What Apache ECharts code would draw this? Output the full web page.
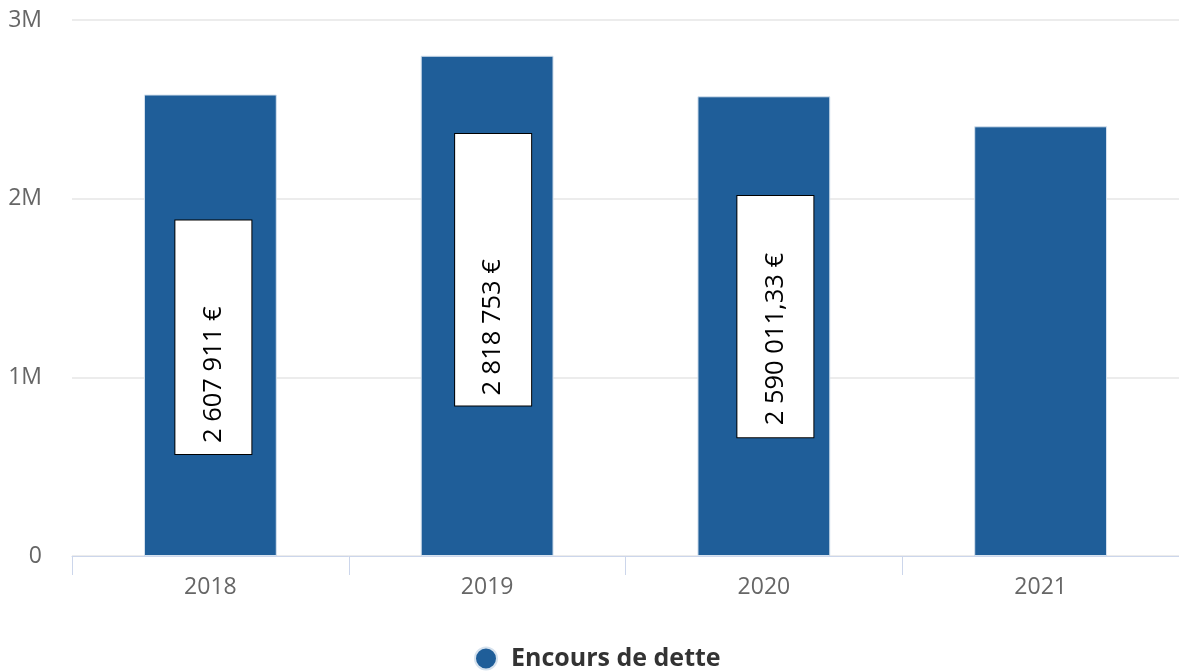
<!DOCTYPE html>
<html>
<head>
<meta charset="utf-8">
<script src="https://cdn.jsdelivr.net/npm/echarts@6/dist/echarts.min.js"></script>
<style>
html,body{margin:0;padding:0;background:#fff;}
#chart{width:1179px;height:671px;}
</style>
</head>
<body>
<div id="chart"></div>
<script>
// Data
var categories = ['2018', '2019', '2020', '2021'];
var debtValues = [2583000, 2800000, 2573000, 2405000];
var labelTexts = ['2 607 911 €', '2 818 753 €', '2 590 011,33 €', null];
var yTicks = [0, 1000000, 2000000, 3000000];
var seriesName = 'Encours de dette';

// Per-label box styling (padding in the rotated text frame, offset in rotated frame)
var labelStyles = [
  { padding: [23, 86, 23, 11], offset: [-12, 3] },
  { padding: [23, 125, 23, 10], offset: [36, 6] },
  { padding: [23, 57, 23, 12], offset: [9.5, 11.5] },
  null
];

var seriesData = debtValues.map(function (v, i) {
  var item = { value: v };
  if (labelTexts[i] && labelStyles[i]) {
    item.label = {
      show: true,
      position: 'inside',
      rotate: 90,
      formatter: labelTexts[i],
      color: '#000',
      fontFamily: 'Open Sans',
      fontSize: 25.5,
      lineHeight: 30,
      backgroundColor: '#fff',
      borderColor: '#000',
      borderWidth: 1,
      padding: labelStyles[i].padding,
      offset: labelStyles[i].offset
    };
  } else {
    item.label = { show: false };
  }
  return item;
});

var chart = echarts.init(document.getElementById('chart'), null, { renderer: 'canvas' });
chart.setOption({
  animation: false,
  backgroundColor: '#fff',
  grid: { left: 72, right: 0, top: 20, bottom: 115, containLabel: false },
  legend: {
    data: [seriesName],
    left: 469,
    top: 641,
    icon: 'circle',
    itemWidth: 22,
    itemHeight: 22,
    textStyle: {
      fontFamily: 'Open Sans',
      fontSize: 25,
      fontWeight: 'bold',
      color: '#333',
      padding: [0, 0, 0, 9]
    }
  },
  xAxis: {
    type: 'category',
    data: categories,
    axisLine: { lineStyle: { color: '#ccd6eb', width: 1 } },
    axisTick: { show: true, length: 19, alignWithLabel: false, lineStyle: { color: '#ccd6eb' } },
    axisLabel: {
      fontFamily: 'Open Sans',
      fontSize: 23,
      color: '#666',
      margin: 20
    },
    splitLine: { show: false }
  },
  yAxis: {
    type: 'value',
    min: yTicks[0],
    max: yTicks[yTicks.length - 1],
    interval: yTicks[1] - yTicks[0],
    axisLine: { show: false },
    axisTick: { show: false },
    axisLabel: {
      fontFamily: 'Open Sans',
      fontSize: 23,
      color: '#666',
      margin: 30,
      padding: [0, 0, 8, 0],
      formatter: function (v) { return v === 0 ? '0' : (v / 1000000) + 'M'; }
    },
    splitLine: { lineStyle: { color: '#e6e6e6', width: 1.5 } }
  },
  series: [{
    name: seriesName,
    type: 'bar',
    data: seriesData,
    barWidth: '48%',
    itemStyle: { color: '#1f5e99', borderColor: '#d6e2ee', borderWidth: 1 },
    emphasis: { disabled: true }
  }]
});
</script>
</body>
</html>
